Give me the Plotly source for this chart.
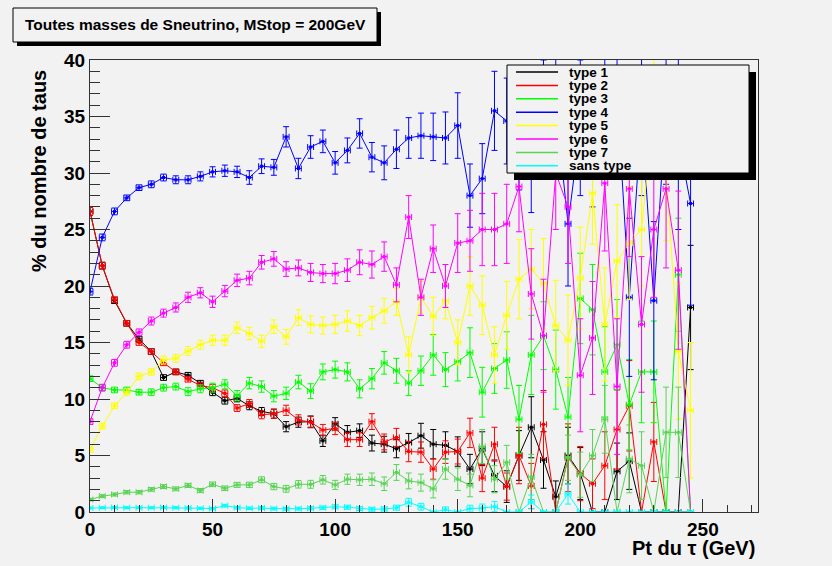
import plotly.graph_objects as go

# ---------------- data ----------------
pt = [0, 5, 10, 15, 20, 25, 30, 35, 40, 45, 50, 55, 60, 65, 70, 75, 80, 85, 90, 95,
      100, 105, 110, 115, 120, 125, 130, 135, 140, 145, 150, 155, 160, 165, 170, 175,
      180, 185, 190, 195, 200, 205, 210, 215, 220, 225, 230, 235, 240, 245]

type1 = [26.6, 21.8, 18.7, 16.7, 15.3, 14.2, 11.9, 12.4, 12.1, 11.4, 10.6, 9.85, 10.05, 9.4, 8.9,
         8.7, 7.55, 7.95, 8.0, 6.3, 7.8, 7.05, 7.2, 6.1, 6.0, 5.6, 6.15, 6.75, 6.0, 5.9, 5.35, 3.8,
         5.6, 3.2, 2.25, 5.0, 7.5, 4.6, 1.35, 5.0, 3.4, 0, 0, 3.6, 4.5, 0, 0, 0, 0, 18.1]
type1_err = [0.35, 0.3, 0.25, 0.25, 0.25, 0.25, 0.25, 0.25, 0.25, 0.25, 0.3, 0.3, 0.3, 0.35, 0.35,
             0.4, 0.45, 0.45, 0.5, 0.5, 0.55, 0.6, 0.6, 0.7, 0.7, 0.8, 0.8, 1.1, 1.3, 1.2, 1.3, 1.3,
             1.5, 1.4, 1.4, 2.2, 2.7, 2.5, 1.4, 2.5, 2.3, 0, 0, 2.5, 2.5, 0, 0, 0, 0, 5.5]

type2 = [26.6, 21.8, 18.8, 16.7, 15.0, 14.2, 13.2, 12.4, 11.75, 11.2, 11.0, 10.5, 9.2, 9.6, 8.6,
         8.7, 9.0, 8.15, 7.95, 7.25, 7.4, 6.4, 6.4, 8.0, 6.2, 6.6, 5.35, 5.3, 3.8, 5.3, 5.35, 7.0,
         3.0, 6.0, 2.25, 5.0, 2.3, 7.75, 0, 4.8, 3.4, 2.5, 4.1, 7.3, 9.4, 0, 6.2, 0, 0, 0]
type2_err = [0.35, 0.3, 0.25, 0.25, 0.25, 0.25, 0.25, 0.25, 0.25, 0.25, 0.3, 0.3, 0.3, 0.35, 0.35,
             0.4, 0.45, 0.45, 0.5, 0.5, 0.55, 0.6, 0.6, 0.7, 0.7, 0.8, 0.9, 0.9, 0.9, 1.0, 1.1, 1.3,
             1.2, 1.5, 1.2, 2.5, 2.0, 3.0, 0, 3.0, 2.4, 2.2, 3.0, 3.5, 4.0, 0, 3.5, 0, 0, 0]

type3 = [11.8, 11.0, 10.8, 10.8, 10.6, 10.6, 11.0, 11.1, 10.65, 10.9, 11.0, 11.3, 10.3, 11.4, 11.1,
         10.25, 10.5, 11.5, 10.7, 12.4, 12.6, 12.4, 10.9, 11.8, 13.2, 12.5, 11.4, 12.5, 13.9, 12.6,
         13.3, 14.1, 10.6, 12.7, 13.45, 8.2, 13.9, 15.6, 12.6, 8.4, 18.9, 17.9, 12.4, 14.8, 9.5,
         12.4, 12.4, 0, 21.0, 0]
type3_err = [0.25, 0.25, 0.25, 0.25, 0.25, 0.3, 0.3, 0.3, 0.35, 0.35, 0.4, 0.4, 0.45, 0.5, 0.5,
             0.5, 0.55, 0.6, 0.65, 0.7, 0.75, 0.8, 0.8, 0.9, 1.0, 1.1, 1.1, 1.3, 1.8, 1.5, 1.7, 2.2,
             2.2, 2.2, 2.5, 3.0, 3.5, 3.0, 3.5, 3.5, 4.0, 4.0, 4.0, 4.0, 4.0, 4.5, 4.5, 0, 5.0, 0]

type4 = [19.5, 24.3, 26.6, 27.8, 28.7, 29.0, 29.6, 29.4, 29.4, 29.7, 30.1, 30.2, 30.1, 29.6, 30.6,
         30.5, 33.2, 30.4, 32.3, 32.8, 30.9, 32.0, 33.5, 31.4, 30.9, 32.1, 33.1, 33.3, 33.2, 33.1,
         34.2, 28.0, 29.5, 35.5, 34.6, 33.0, 31.5, 35.0, 36.0, 25.5, 34.0, 33.0, 36.0, 37.0, 19.0,
         35.0, 18.7, 36.0, 33.0, 27.3]
type4_err = [0.3, 0.3, 0.3, 0.25, 0.25, 0.3, 0.3, 0.35, 0.35, 0.4, 0.45, 0.5, 0.5, 0.6, 0.65,
             0.7, 0.9, 0.9, 1.0, 1.0, 1.0, 1.1, 1.3, 1.3, 1.5, 1.7, 1.8, 2.0, 2.1, 2.3, 2.9, 2.8,
             3.1, 3.5, 3.8, 4.5, 5.0, 5.0, 5.0, 5.5, 6.0, 6.0, 6.0, 6.0, 7.0, 7.0, 7.0, 7.0, 8.0, 9.0]

type5 = [5.5, 7.6, 9.4, 10.6, 12.0, 12.4, 13.45, 13.6, 14.25, 14.8, 15.2, 15.2, 16.3, 15.8, 15.1,
         16.4, 15.5, 17.2, 16.6, 16.5, 16.6, 16.9, 16.5, 17.2, 17.8, 18.6, 13.9, 19.0, 17.3, 18.7,
         15.0, 20.0, 18.3, 13.9, 17.4, 20.6, 21.5, 20.2, 16.5, 15.2, 20.7, 28.2, 16.6, 22.2, 23.8,
         25.0, 36.0, 30.0, 14.2, 9.0]
type5_err = [0.2, 0.25, 0.25, 0.3, 0.3, 0.3, 0.35, 0.35, 0.4, 0.4, 0.45, 0.45, 0.5, 0.55, 0.55,
             0.6, 0.65, 0.7, 0.75, 0.75, 0.8, 0.9, 0.9, 1.0, 1.1, 1.2, 1.6, 1.4, 1.7, 1.6, 2.0, 2.6,
             2.6, 2.5, 3.0, 3.5, 3.5, 4.0, 4.0, 4.0, 4.5, 4.5, 5.0, 5.0, 5.0, 5.0, 6.0, 6.0, 6.0, 6.0]

type6 = [8.0, 11.0, 13.2, 14.8, 15.9, 16.9, 17.6, 18.1, 19.0, 19.4, 18.6, 19.55, 20.5, 20.7, 22.1,
         22.4, 21.5, 21.6, 21.2, 21.1, 21.1, 21.4, 22.1, 21.9, 22.6, 20.1, 26.1, 19.0, 23.3, 20.0,
         23.8, 24.0, 25.0, 25.0, 25.5, 28.8, 19.3, 15.6, 30.0, 27.0, 12.1, 15.4, 29.1, 11.1, 28.6,
         16.6, 25.0, 28.6, 21.4, 0]
type6_err = [0.25, 0.3, 0.3, 0.3, 0.3, 0.35, 0.35, 0.4, 0.45, 0.45, 0.5, 0.5, 0.55, 0.6, 0.6,
             0.65, 0.65, 0.7, 0.8, 0.8, 0.9, 1.0, 1.1, 1.2, 1.3, 1.5, 1.9, 1.6, 2.1, 1.9, 2.6, 2.7,
             3.2, 3.2, 3.5, 4.0, 4.0, 5.0, 5.0, 5.0, 5.0, 5.0, 6.0, 6.0, 6.0, 6.0, 6.0, 7.0, 7.0, 0]

type7 = [1.1, 1.4, 1.55, 1.75, 1.75, 2.0, 2.25, 2.05, 2.35, 1.9, 2.45, 2.1, 2.4, 2.4, 2.85,
         2.25, 2.05, 2.45, 2.45, 2.85, 2.4, 2.9, 2.85, 2.9, 2.5, 3.5, 2.75, 2.6, 2.05, 3.8, 2.9,
         2.35, 5.8, 2.9, 4.4, 0, 3.1, 0, 0, 4.8, 3.3, 5.0, 8.2, 0, 4.7, 4.1, 0, 7.05, 7.05, 0]
type7_err = [0.12, 0.13, 0.14, 0.15, 0.15, 0.16, 0.17, 0.17, 0.18, 0.18, 0.2, 0.2, 0.22, 0.24, 0.26,
             0.28, 0.3, 0.33, 0.35, 0.38, 0.4, 0.45, 0.5, 0.55, 0.6, 0.7, 0.7, 0.75, 0.8, 0.9, 1.0,
             1.0, 1.5, 1.2, 1.5, 0, 2.0, 0, 0, 2.0, 2.0, 2.3, 3.0, 0, 3.0, 3.0, 0, 4.0, 4.0, 0]

sans_type = [0.35, 0.38, 0.4, 0.38, 0.38, 0.38, 0.4, 0.38, 0.35, 0.33, 0.3, 0.56, 0.38, 0.33, 0.35,
             0.3, 0.28, 0.3, 0.33, 0.38, 0.47, 0.42, 0.3, 0.24, 0.27, 0.38, 0.86, 0.47, 0, 0.2, 0,
             0.3, 0.35, 0.47, 0, 0, 0.9, 0, 0, 1.6, 0, 0, 0, 0, 0, 0, 0, 0, 0, 0]
sans_type_err = [0.07, 0.07, 0.08, 0.08, 0.08, 0.08, 0.09, 0.09, 0.09, 0.09, 0.1, 0.12, 0.11, 0.11,
                 0.12, 0.12, 0.12, 0.13, 0.14, 0.15, 0.17, 0.18, 0.17, 0.17, 0.18, 0.22, 0.35, 0.3,
                 0, 0.25, 0, 0.3, 0.35, 0.45, 0, 0, 0.6, 0, 0, 0.9, 0, 0, 0, 0, 0, 0, 0, 0, 0, 0]

pt_halfwidth = 1.2

names = ["type 1", "type 2", "type 3", "type 4", "type 5", "type 6", "type 7", "sans type"]
values = [type1, type2, type3, type4, type5, type6, type7, sans_type]
errors = [type1_err, type2_err, type3_err, type4_err, type5_err, type6_err, type7_err, sans_type_err]
colors = ["#000000", "#ff0000", "#00ff00", "#0000ff", "#ffff00", "#ff00ff", "#59d454", "#00ffff"]

title_text = "Toutes masses de Sneutrino, MStop = 200GeV"
ytitle = "% du nombre de taus"
xtitle = "Pt du τ (GeV)"

# ---------------- figure ----------------
W, H = 832, 566
L, R, T, B = 90, 758, 60, 512
BG = "#f2f2f2"


def PX(x):
    return (x - L) / (R - L)


def PY(y):
    return (B - y) / (B - T)


fig = go.Figure()
for name, v, e, c in zip(names, values, errors, colors):
    fig.add_trace(go.Scatter(
        x=pt, y=v, name=name, mode="lines+markers",
        line=dict(color=c, width=1),
        marker=dict(color=c, size=3, symbol="square"),
        error_y=dict(type="data", array=e, color=c, thickness=1, width=3, visible=True),
        error_x=dict(type="constant", value=pt_halfwidth, color=c, thickness=1, width=3, visible=True),
        showlegend=False,
    ))

bold = dict(family="Liberation Sans, Arial, sans-serif", size=19, color="black", weight="bold")

fig.update_layout(
    width=W, height=H,
    margin=dict(l=L, r=W - R, t=T, b=H - B, pad=0),
    paper_bgcolor=BG, plot_bgcolor=BG,
    showlegend=False,
    xaxis=dict(
        range=[0, 272.5], showgrid=False, zeroline=False,
        showline=True, linecolor="#333333", linewidth=1, mirror=True,
        ticks="inside", ticklen=13, tickwidth=1, tickcolor="#333333",
        tickvals=[0, 50, 100, 150, 200, 250],
        minor=dict(ticks="inside", ticklen=7, tickwidth=1, tickcolor="#333333", dtick=10, showgrid=False),
        tickfont=bold,
    ),
    yaxis=dict(
        range=[0, 40], showgrid=False, zeroline=False,
        showline=True, linecolor="#333333", linewidth=1, mirror=True,
        ticks="inside", ticklen=20, tickwidth=1, tickcolor="#333333",
        tickvals=[0, 5, 10, 15, 20, 25, 30, 35, 40],
        minor=dict(ticks="inside", ticklen=10, tickwidth=1, tickcolor="#333333", dtick=1, showgrid=False),
        tickfont=bold,
    ),
)

shapes = []
annots = []

# title box with shadow
tb = (13, 8, 377, 42)
sh = 4
shapes.append(dict(type="rect", xref="paper", yref="paper", layer="above",
                   x0=PX(tb[0] + sh), x1=PX(tb[2] + sh), y0=PY(tb[1] + sh), y1=PY(tb[3] + sh),
                   fillcolor="black", line=dict(width=0)))
shapes.append(dict(type="rect", xref="paper", yref="paper", layer="above",
                   x0=PX(tb[0]), x1=PX(tb[2]), y0=PY(tb[1]), y1=PY(tb[3]),
                   fillcolor=BG, line=dict(color="black", width=1)))
annots.append(dict(xref="paper", yref="paper", x=PX((tb[0] + tb[2]) / 2), y=PY((tb[1] + tb[3]) / 2),
                   xanchor="center", yanchor="middle", showarrow=False, text=title_text,
                   font=dict(family="Liberation Sans, Arial", size=15.5,
                             color="black", weight="bold")))

# legend box with shadow
lb = (507, 65, 749, 173)
lsh = 7
shapes.append(dict(type="rect", xref="paper", yref="paper", layer="above",
                   x0=PX(lb[0] + lsh), x1=PX(lb[2] + lsh), y0=PY(lb[1] + lsh), y1=PY(lb[3] + lsh),
                   fillcolor="black", line=dict(width=0)))
shapes.append(dict(type="rect", xref="paper", yref="paper", layer="above",
                   x0=PX(lb[0]), x1=PX(lb[2]), y0=PY(lb[1]), y1=PY(lb[3]),
                   fillcolor=BG, line=dict(color="black", width=1)))
for i, (name, c) in enumerate(zip(names, colors)):
    yy = 72 + 13.4 * i
    shapes.append(dict(type="line", xref="paper", yref="paper", layer="above",
                       x0=PX(516), x1=PX(558), y0=PY(yy), y1=PY(yy),
                       line=dict(color=c, width=1.5)))
    annots.append(dict(xref="paper", yref="paper", x=PX(567), y=PY(yy),
                       xanchor="left", yanchor="middle", showarrow=False, text=name,
                       font=dict(family="Liberation Sans, Arial", size=13.5, color="black", weight="bold")))

# axis titles
annots.append(dict(xref="paper", yref="paper", x=PX(39), y=PY(68), xanchor="center", yanchor="top",
                   textangle=-90, showarrow=False, text=ytitle,
                   font=dict(family="Liberation Sans, Arial", size=20, color="black", weight="bold")))
annots.append(dict(xref="paper", yref="paper", x=PX(757), y=PY(548), xanchor="right", yanchor="middle",
                   showarrow=False, text=xtitle,
                   font=dict(family="Liberation Sans, Arial", size=20, color="black", weight="bold")))

fig.update_layout(shapes=shapes, annotations=annots)
fig.write_html("out.html")
